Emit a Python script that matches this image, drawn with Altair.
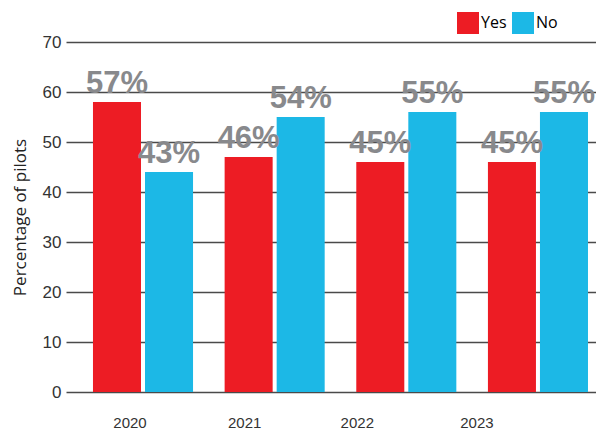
import altair as alt
import pandas as pd

years = ["2020", "2021", "2022", "2023"]
yes_values = [58, 47, 46, 46]
no_values = [44, 55, 56, 56]
yes_labels = ["57%", "46%", "45%", "45%"]
no_labels = ["43%", "54%", "55%", "55%"]
answers = ["Yes", "No"]
colors = ["#ED1C24", "#1CB8E6"]

rows = []
for i, y in enumerate(years):
    rows.append({"year": y, "answer": "Yes", "value": yes_values[i], "label": yes_labels[i]})
    rows.append({"year": y, "answer": "No", "value": no_values[i], "label": no_labels[i]})
df = pd.DataFrame(rows)

x_label_offset = {
    "condition": [
        {"test": "datum.value == '2021'", "value": -30},
        {"test": "datum.value == '2022'", "value": -49},
        {"test": "datum.value == '2023'", "value": -61},
    ],
    "value": -13,
}

base = alt.Chart(df).encode(
    x=alt.X(
        "year:N",
        sort=years,
        scale=alt.Scale(paddingInner=0.24, paddingOuter=0.1329, align=0.771),
        axis=alt.Axis(
            title=None,
            labelAngle=0,
            domain=False,
            ticks=False,
            labelPadding=23,
            labelFont="Liberation Sans",
            labelFontSize=15,
            labelColor="#333333",
            labelOffset=x_label_offset,
        ),
    ),
    xOffset=alt.XOffset(
        "answer:N", sort=answers, scale=alt.Scale(paddingInner=0.077, paddingOuter=0)
    ),
    y=alt.Y(
        "value:Q",
        scale=alt.Scale(domain=[0, 70], nice=False),
        axis=alt.Axis(
            values=[0, 10, 20, 30, 40, 50, 60, 70],
            grid=True,
            gridColor="#4a4a4a",
            gridWidth=1.3,
            domain=False,
            ticks=False,
            labelPadding=5,
            labelFont="Liberation Sans",
            labelFontSize=17,
            labelColor="#333333",
            title="Percentage of pilots",
            titleFont="Open Sans",
            titleFontSize=17,
            titleFontWeight="normal",
            titleColor="#222222",
            titleX=-41,
            titleY=175,
            titleBaseline="alphabetic",
            titleAlign="center",
        ),
    ),
)

bars = base.mark_bar().encode(
    color=alt.Color(
        "answer:N",
        sort=answers,
        scale=alt.Scale(domain=answers, range=colors),
        legend=alt.Legend(
            title=None,
            orient="none",
            direction="horizontal",
            legendX=391,
            legendY=-30,
            padding=0,
            symbolType="square",
            symbolSize=484,
            symbolStrokeWidth=0,
            symbolOpacity=1,
            labelFont="Open Sans",
            labelFontSize=16,
            labelColor="#000000",
            labelOffset=2,
            columnPadding=5,
        ),
    )
)

text = base.mark_text(
    dy=-9,
    baseline="alphabetic",
    font="Liberation Sans",
    fontWeight="bold",
    fontSize=31,
    color="#88898c",
).encode(text="label:N")

chart = (
    alt.layer(bars, text)
    .properties(
        width=530,
        height=350,
        autosize=alt.AutoSizeParams(type="none"),
        padding={"left": 58, "top": 34, "right": 0, "bottom": 40},
    )
    .configure_view(stroke=None)
)

chart.save("out.html", embed_options={"renderer": "svg", "actions": False})
